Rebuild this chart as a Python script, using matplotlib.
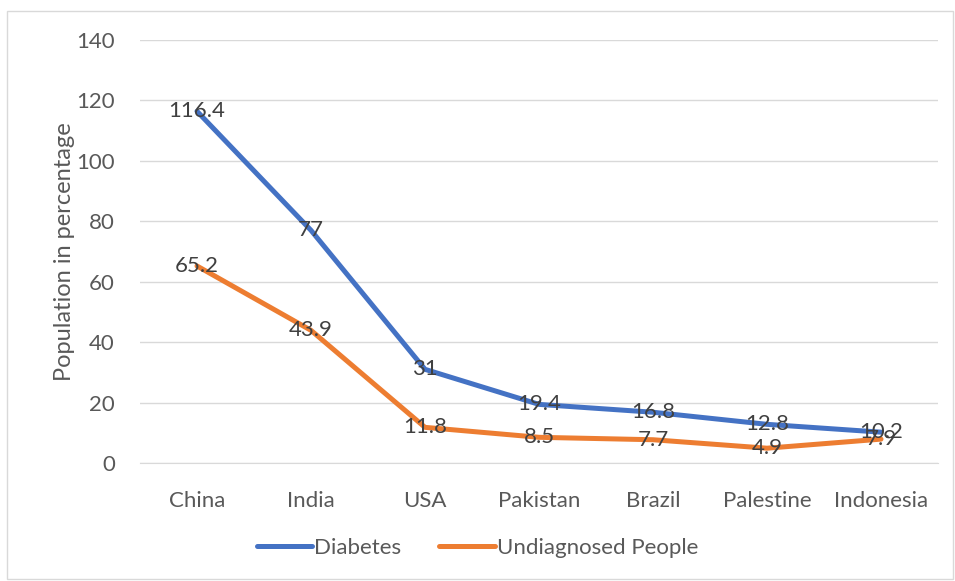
import matplotlib.pyplot as plt
from matplotlib.patches import Rectangle

plt.rcParams['font.family'] = ['Lato', 'DejaVu Sans']

countries = ['China', 'India', 'USA', 'Pakistan', 'Brazil', 'Palestine', 'Indonesia']
diabetes = [116.4, 77, 31, 19.4, 16.8, 12.8, 10.2]
undiagnosed = [65.2, 43.9, 11.8, 8.5, 7.7, 4.9, 7.9]

blue = '#4472C4'
orange = '#ED7D31'
text_col = '#595959'
label_col = '#404040'
fs = 16

fig = plt.figure(figsize=(9.55, 5.81), dpi=100)
ax = fig.add_axes([0.1466, 0.2031, 0.8356, 0.7281])

# chart border
fig.patches.append(Rectangle((7 / 955, 2 / 581), 946 / 955, 568 / 581,
                             transform=fig.transFigure, fill=False,
                             edgecolor='#D9D9D9', lw=1))

x = range(len(countries))
ax.plot(x, diabetes, color=blue, lw=3.6, solid_capstyle='round',
        solid_joinstyle='round', label='Diabetes', zorder=3)
ax.plot(x, undiagnosed, color=orange, lw=3.6, solid_capstyle='round',
        solid_joinstyle='round', label='Undiagnosed People', zorder=3)

for xi, v in zip(x, diabetes):
    ax.text(xi, v, f'{v:g}', ha='center', va='center', fontsize=fs,
            color=label_col, zorder=4)
for xi, v in zip(x, undiagnosed):
    ax.text(xi, v, f'{v:g}', ha='center', va='center', fontsize=fs,
            color=label_col, zorder=4)

ax.set_xlim(-0.5, len(countries) - 0.5)
ax.set_ylim(0, 140)
ax.set_yticks(range(0, 141, 20))
ax.set_xticks(list(x))
ax.set_xticklabels(countries)
ax.grid(axis='y', color='#D9D9D9', lw=1)
ax.set_axisbelow(True)
for s in ax.spines.values():
    s.set_visible(False)
ax.spines['bottom'].set_visible(True)
ax.spines['bottom'].set_color('#D9D9D9')
ax.tick_params(length=0, labelsize=fs, labelcolor=text_col)
ax.tick_params(axis='x', pad=20)
ax.tick_params(axis='y', pad=18)
ax.set_ylabel('Population in percentage', fontsize=fs + 1, color=text_col, labelpad=1)

leg = fig.legend(loc='center', bbox_to_anchor=(0.5, 1 - 548 / 581), ncol=2,
                 frameon=False, fontsize=fs, handlelength=2.5,
                 handletextpad=0.1, columnspacing=1.7)
for t in leg.get_texts():
    t.set_color(text_col)

fig.savefig('out.png', dpi=100)
